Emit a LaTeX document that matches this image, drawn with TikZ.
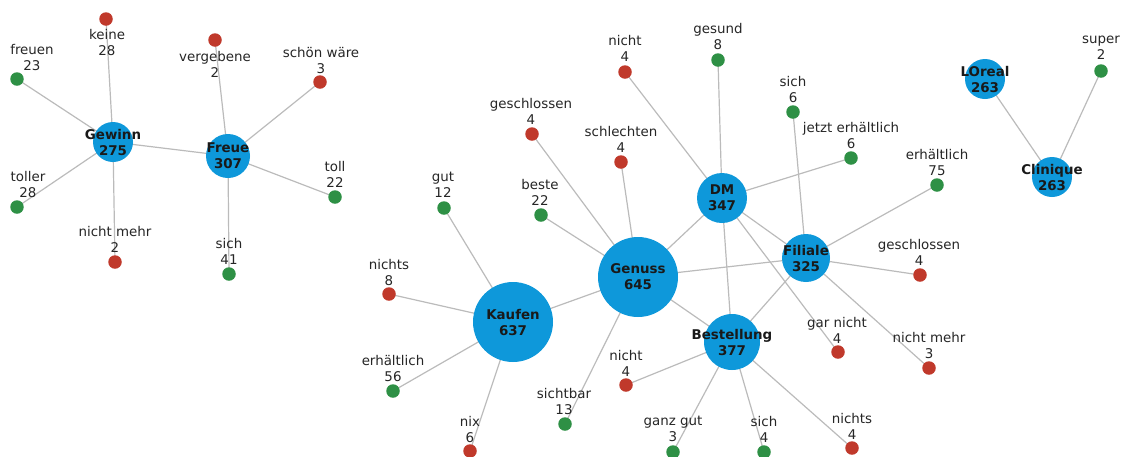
\documentclass[tikz,border=0pt]{standalone}
\usepackage{fontspec}
\setmainfont{DejaVu Sans}
\usetikzlibrary{backgrounds}
\definecolor{hubblue}{RGB}{14,152,218}
\definecolor{negred}{RGB}{192,57,43}
\definecolor{posgreen}{RGB}{46,144,69}
\definecolor{edgegray}{RGB}{187,187,187}
\definecolor{txt}{RGB}{38,38,38}
\tikzset{
  hub/.style={circle, fill=hubblue, draw=none, inner sep=0pt, minimum size=#1},
  posdot/.style={circle, fill=posgreen, draw=none, inner sep=0pt, minimum size=13.5pt},
  negdot/.style={circle, fill=negred, draw=none, inner sep=0pt, minimum size=13.5pt},
  lbl/.style={align=center, inner sep=0pt, text=txt, font=\fontsize{13.4}{16}\selectfont},
  hublbl/.style={align=center, inner sep=0pt, text=black!90, font=\fontsize{13.4}{16}\selectfont\bfseries},
  edge/.style={draw=edgegray, line width=1.2pt}
}
\newcommand{\leafnode}[8]{%
  \node[#4] (#1) at (#2,#3) {};
  \node[lbl] (#1-l) at (#7,#8) {#5\\#6};
}
\newcommand{\hubnode}[6]{%
  \node[hub=#4] (#1) at (#2,#3) {};
  \node[hublbl] (#1-l) at (#2,#3) {#5\\#6};
}
\begin{document}
\begin{tikzpicture}[x=1pt,y=-1pt]
\useasboundingbox (0,0) rectangle (1123,456);
% hubs
\hubnode{gewinn}{113}{142}{40pt}{Gewinn}{275}
\hubnode{freue}{228}{156}{44pt}{Freue}{307}
\hubnode{dm}{722}{198}{50pt}{DM}{347}
\hubnode{loreal}{985}{79}{40pt}{LOreal}{263}
\hubnode{clinique}{1052}{177}{40pt}{Clinique}{263}
\hubnode{filiale}{806}{258}{48pt}{Filiale}{325}
\hubnode{genuss}{638}{277}{80pt}{Genuss}{645}
\hubnode{kaufen}{513}{322}{80pt}{Kaufen}{637}
\hubnode{bestellung}{732}{342}{56pt}{Bestellung}{377}
% leaves
\leafnode{freuen}{17}{79}{posdot}{freuen}{23}{32}{57}
\leafnode{keine}{106}{19}{negdot}{keine}{28}{107}{42}
\leafnode{vergebene}{215}{40}{negdot}{vergebene}{2}{215}{64}
\leafnode{schoen}{320}{82}{negdot}{schön wäre}{3}{321}{60}
\leafnode{toller}{17}{207}{posdot}{toller}{28}{28}{184}
\leafnode{toll}{335}{197}{posdot}{toll}{22}{335}{174}
\leafnode{nichtmehrA}{115}{262}{negdot}{nicht mehr}{2}{115}{239}
\leafnode{sichA}{229}{274}{posdot}{sich}{41}{229}{251}
\leafnode{nichtB}{625}{72}{negdot}{nicht}{4}{625}{48}
\leafnode{gesund}{718}{60}{posdot}{gesund}{8}{718}{36}
\leafnode{geschlA}{532}{134}{negdot}{geschlossen}{4}{531}{111}
\leafnode{schlechten}{621}{162}{negdot}{schlechten}{4}{621}{139}
\leafnode{gut}{444}{208}{posdot}{gut}{12}{443}{185}
\leafnode{beste}{541}{215}{posdot}{beste}{22}{540}{192}
\leafnode{sichB}{793}{112}{posdot}{sich}{6}{793}{89}
\leafnode{jetzt}{851}{158}{posdot}{jetzt erhältlich}{6}{851}{135}
\leafnode{erhaeltB}{937}{185}{posdot}{erhältlich}{75}{937}{162}
\leafnode{super}{1101}{71}{posdot}{super}{2}{1101}{48}
\leafnode{geschlB}{920}{275}{negdot}{geschlossen}{4}{919}{252}
\leafnode{nichtsA}{389}{294}{negdot}{nichts}{8}{389}{272}
\leafnode{erhaeltA}{393}{391}{posdot}{erhältlich}{56}{393}{368}
\leafnode{nix}{470}{451}{negdot}{nix}{6}{470}{429}
\leafnode{sichtbar}{565}{424}{posdot}{sichtbar}{13}{564}{401}
\leafnode{nichtC}{626}{385}{negdot}{nicht}{4}{626}{363}
\leafnode{ganzgut}{673}{452}{posdot}{ganz gut}{3}{673}{429}
\leafnode{sichC}{764}{452}{posdot}{sich}{4}{764}{429}
\leafnode{nichtsB}{852}{448}{negdot}{nichts}{4}{852}{426}
\leafnode{garnicht}{838}{352}{negdot}{gar nicht}{4}{837}{330}
\leafnode{nichtmehrB}{929}{368}{negdot}{nicht mehr}{3}{929}{345}
% edges
\begin{pgfonlayer}{background}
\foreach \a/\b in {gewinn/freuen, gewinn/keine, gewinn/toller, gewinn/nichtmehrA, gewinn/freue,
  freue/vergebene, freue/schoen, freue/toll, freue/sichA,
  kaufen/gut, kaufen/nichtsA, kaufen/erhaeltA, kaufen/nix, kaufen/genuss,
  genuss/geschlA, genuss/beste, genuss/schlechten, genuss/dm, genuss/filiale, genuss/bestellung, genuss/sichtbar,
  dm/nichtB, dm/gesund, dm/jetzt, dm/bestellung, dm/filiale, dm/garnicht,
  filiale/sichB, filiale/erhaeltB, filiale/geschlB, filiale/nichtmehrB, filiale/bestellung,
  bestellung/nichtC, bestellung/ganzgut, bestellung/sichC, bestellung/nichtsB,
  loreal/clinique, clinique/super}
  \draw[edge] (\a.center) -- (\b.center);
\end{pgfonlayer}
\end{tikzpicture}
\end{document}
